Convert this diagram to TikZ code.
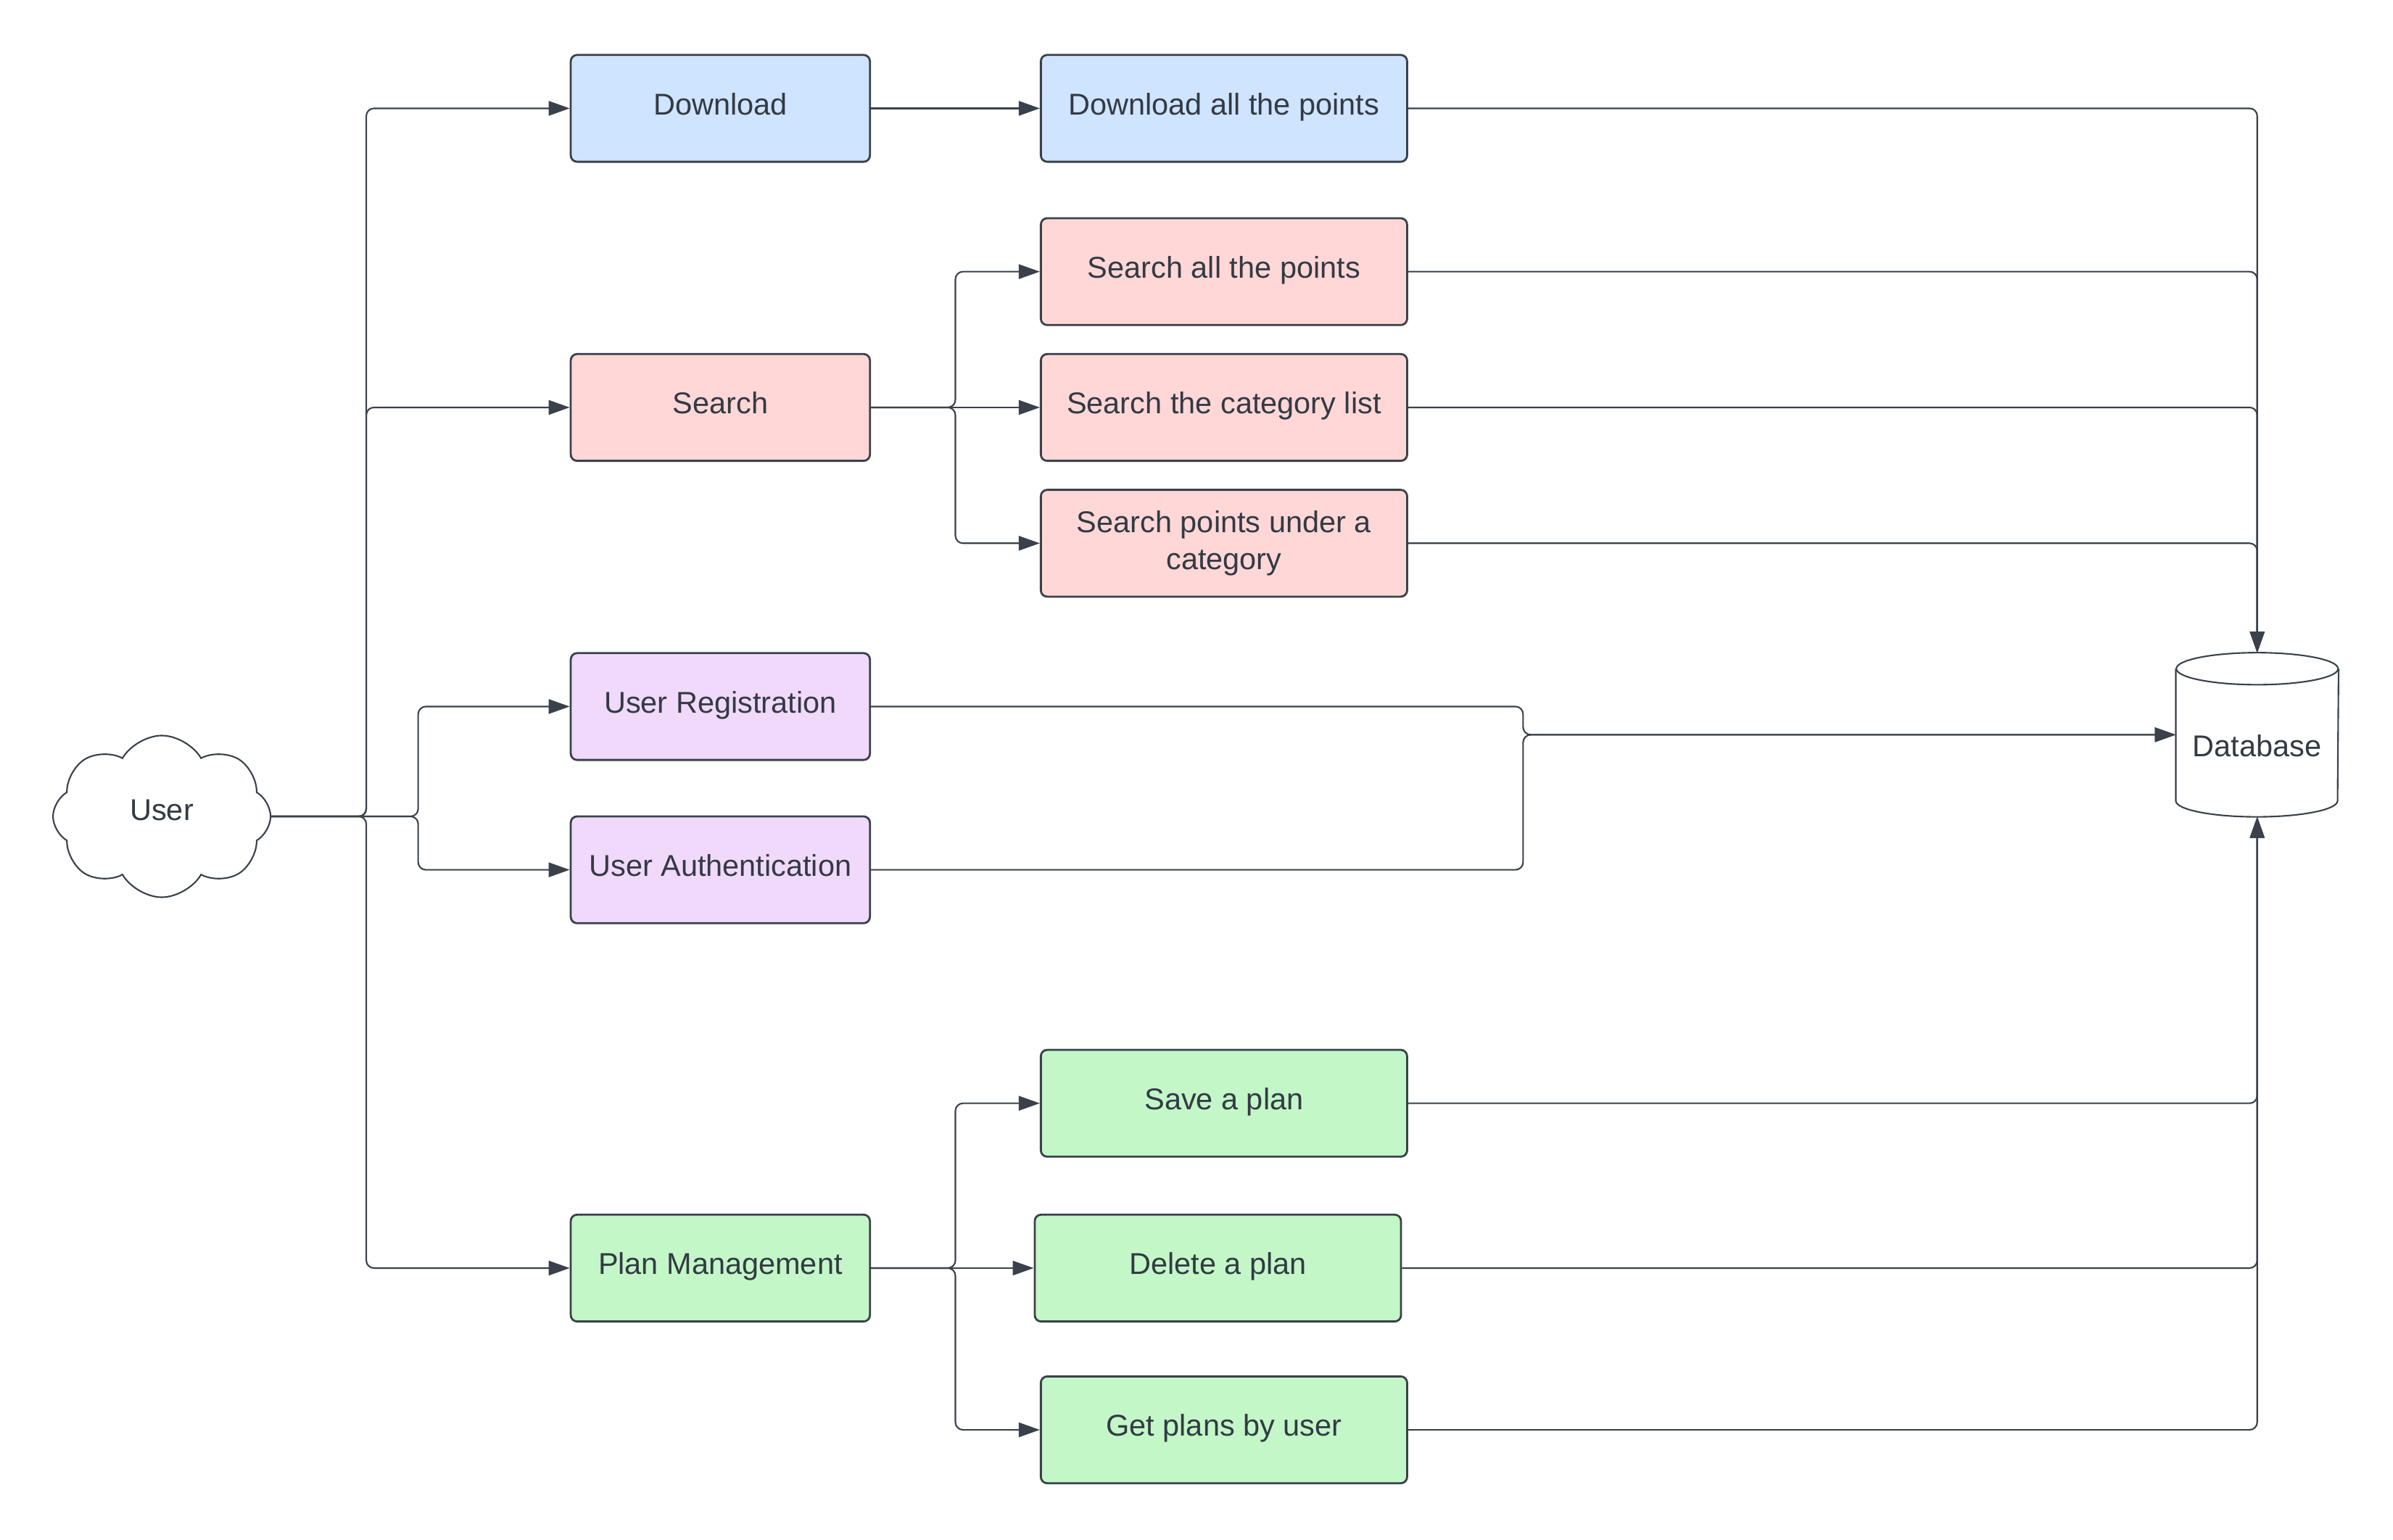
\documentclass[tikz,border=0pt]{standalone}
\usepackage{fontspec}
\setmainfont{Liberation Sans}
\usepackage{tikz}
\usetikzlibrary{arrows.meta}
\usetikzlibrary{shapes.symbols}
\definecolor{lineclr}{HTML}{3A414A}
\definecolor{txtclr}{HTML}{333A44}
\definecolor{dlblue}{HTML}{CFE4FF}
\definecolor{srchred}{HTML}{FFD7D7}
\definecolor{usrpurple}{HTML}{F1D9FC}
\definecolor{plangreen}{HTML}{C3F7C8}
\tikzset{
boxbase/.style={rectangle,draw=lineclr,line width=0.8pt,rounded corners=2.5pt,align=center,text=txtclr,inner sep=0pt,
  minimum width=4.125cm,minimum height=1.473cm,font=\fontsize{11.8}{14.4}\selectfont},
box/.style={boxbase,text height=0.75em,text depth=0.25em},
widebox/.style={box,minimum width=5.05cm},
dlfill/.style={fill=dlblue},
srfill/.style={fill=srchred},
usfill/.style={fill=usrpurple},
plfill/.style={fill=plangreen},
usercloud/.style={cloud,cloud puffs=8,cloud puff arc=120,draw=lineclr,line width=0.6pt,fill=white,text=txtclr,
  minimum width=3.0cm,minimum height=2.23cm,inner sep=0pt,text height=0.75em,text depth=0.45em,
  font=\fontsize{11.8}{14.4}\selectfont},
dbnode/.style={rectangle,draw=none,minimum width=2.23cm,minimum height=2.25cm,inner sep=0pt,text=txtclr,
  font=\fontsize{11.8}{14.4}\selectfont},
dbline/.style={draw=lineclr,line width=0.6pt},
link/.style={draw=lineclr,line width=0.6pt,rounded corners=3pt,-{Triangle[length=0.29cm,width=0.2cm]}}
}
\begin{document}
\begin{tikzpicture}[x=0.021046cm, y=-0.021046cm]
    \useasboundingbox (0,0) rectangle (1568,1009);
    %
    \node[usercloud](user) at (106,535) {User};
    %
    \node[box,dlfill](dl) at (472,71) {Download};
    \node[box,srfill](search) at (472,267) {Search};
    \node[box,usfill](reg) at (472,463) {User Registration};
    \node[box,usfill](auth) at (472,570) {User Authentication};
    \node[box,plfill](plan) at (472,831) {Plan Management};
    %
    \node[widebox,dlfill](dlall) at (802,71) {Download all the points};
    \node[widebox,srfill](srall) at (802,178) {Search all the points};
    \node[widebox,srfill](srcat) at (802,267) {Search the category list};
    \node[boxbase,minimum width=5.05cm,srfill](srpts) at (802,356) {Search points under a\\category};
    \node[widebox,plfill](save) at (802,723) {Save a plan};
    \node[widebox,plfill](del) at (798,831) {Delete a plan};
    \node[widebox,plfill](get) at (802,937) {Get plans by user};
    %
    \node[dbnode](db) at (1479,481.5) {\raisebox{-0.297cm}[0pt][0pt]{Database}};
    \draw[dbline] ([yshift=-0.221cm]db.north) ellipse [x radius=1.115cm, y radius=0.221cm];
    \draw[dbline] ([yshift=-0.221cm]db.north west) -- ([yshift=0.221cm]db.south west)
      arc[start angle=180, end angle=360, x radius=1.115cm, y radius=0.221cm]
      -- ([yshift=-0.221cm]db.north east);
    %
    \coordinate (ubus) at (240,535);
    \coordinate (abus) at (274,535);
    \coordinate (sbus) at (626,267);
    \coordinate (pbus) at (626,831);
    \coordinate (rbus) at (998,481.5);
    %
    \foreach \v in {dl,search,plan}
    \draw[link] (user.east) -- (ubus) |- (\v.west);
    \foreach \v in {reg,auth}
    \draw[link] (user.east) -- (abus) |- (\v.west);
    \foreach \v in {srall,srpts}
    \draw[link] (search.east) -- (sbus) |- (\v.west);
    \foreach \v in {save,get}
    \draw[link] (plan.east) -- (pbus) |- (\v.west);
    \foreach \u / \v in {dl/dlall,search/srcat,plan/del}
    \draw[link] (\u.east) -- (\v.west);
    %
    \foreach \u in {dlall,srall,srcat,srpts}
    \draw[link] (\u.east) -| (db.north);
    \foreach \u in {reg,auth}
    \draw[link] (\u.east) -| (rbus) -- (db.west);
    \foreach \u in {save,del,get}
    \draw[link] (\u.east) -| (db.south);
  \end{tikzpicture}
\end{document}
